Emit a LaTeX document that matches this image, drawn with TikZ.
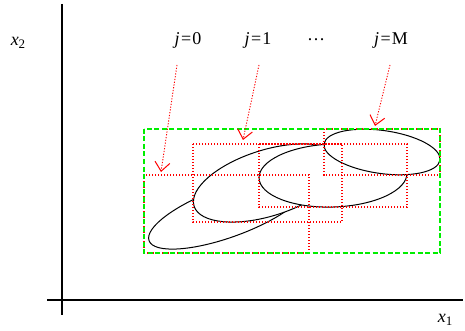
\documentclass[tikz,border=0pt]{standalone}
\usepackage{fontspec}
\setmainfont{Liberation Serif}
\usepackage{tikz}
\usepackage{xcolor}
\usetikzlibrary{shapes.geometric, arrows.meta, positioning}
\definecolor{boxred}{HTML}{FF0000}
\definecolor{boxgreen}{HTML}{00EE00}
\tikzstyle{axis} = [line width=1.2pt, black]
\tikzstyle{blob} = [ellipse, draw=black, fill=white, line width=1pt, inner sep=0pt]
\tikzstyle{bbox} = [draw=boxred, dash pattern=on 1.4pt off 1.6pt, line width=1.1pt]
\tikzstyle{outer} = [draw=boxgreen, dash pattern=on 5pt off 2.5pt, line width=1.1pt]
\tikzstyle{lab} = [font=\fontsize{18}{20}\selectfont, inner sep=1pt]
\tikzstyle{pointer} = [boxred, dash pattern=on 1.2pt off 1.6pt, line width=0.9pt,
                       -{Straight Barb[length=9pt, width=15pt, line width=1pt, sep=0pt]}]

\begin{document}
\begin{tikzpicture}[x=1pt, y=-1pt]
\useasboundingbox (0,0) rectangle (465,331);
% axes
\draw[axis] (62,4) -- (62,315);
\draw[axis] (47,300) -- (463,300);
\node[lab] (xtwo) at (18,43) {\textit{x}\raisebox{-3pt}{\fontsize{13}{13}\selectfont 2}};
\node[lab] (xone) at (445,320) {\textit{x}\raisebox{-3pt}{\fontsize{13}{13}\selectfont 1}};

% ellipses, drawn in order so later ones cover earlier ones
\node[blob, minimum width=168pt, minimum height=50pt, rotate=20] (e0) at (228,212) {};
\node[blob, minimum width=154pt, minimum height=66pt, rotate=17.5] (e1) at (267.5,183) {};
\node[blob, minimum width=148pt, minimum height=63pt, rotate=2] (e2) at (333,175.5) {};
\node[blob, minimum width=117pt, minimum height=43pt, rotate=-8] (eM) at (382,152) {};

% bounding boxes
\draw[bbox] (144,175) rectangle (309,253);
\draw[bbox] (193,144) rectangle (342,222);
\draw[bbox] (259,144) rectangle (407,207);
\draw[bbox] (324,129) rectangle (440,175);
\draw[outer] (144,129) rectangle (440,253);

% labels
\node[lab] (j0) at (188,40) {\textit{j}\kern1.5pt=\kern1pt0};
\node[lab] (j1) at (258,40) {\textit{j}\kern1.5pt=\kern1pt1};
\node[lab] (dots) at (316,40) {…};
\node[lab] (jM) at (391,40) {\textit{j}\kern1.5pt=\kern1pt M};

\coordinate (t0) at (177,65);
\coordinate (h0) at (161,172);
\coordinate (t1) at (259,65);
\coordinate (h1) at (243,140);
\coordinate (tM) at (390,65);
\coordinate (hM) at (375,126);
\draw[pointer] (t0) -- (h0);
\draw[pointer] (t1) -- (h1);
\draw[pointer] (tM) -- (hM);
\end{tikzpicture}
\end{document}
